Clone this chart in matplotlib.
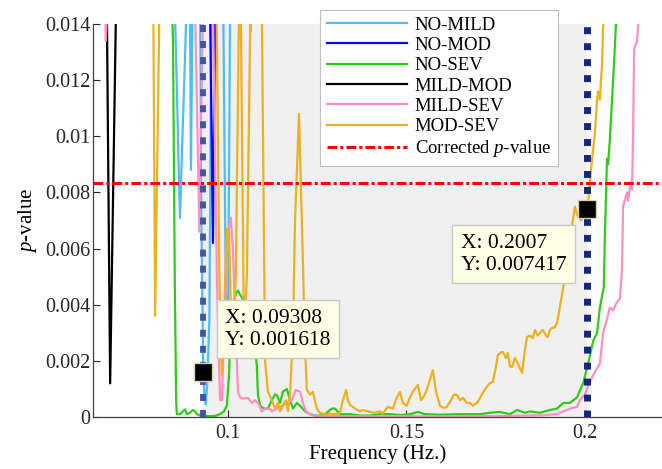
import matplotlib
matplotlib.use('Agg')
import matplotlib.pyplot as plt

# --- veriler ---
no_mild_f = [0.0622, 0.08515, 0.08655, 0.08838, 0.08936, 0.08964, 0.09006, 0.0922, 0.0926, 0.0929,
             0.09308, 0.0934, 0.0938, 0.0942, 0.0948, 0.0954, 0.0987, 0.0994, 0.1000, 0.1006, 0.2216]
no_mild_p = [0.03, 0.0145, 0.00709, 0.0145, 0.0145, 0.0088, 0.0145, 0.0145, 0.0065, 0.0035,
             0.001618, 0.0008, 0.00045, 0.0012, 0.0035, 0.0145, 0.0145, 0.0045, 0.0025, 0.0145, 0.03]

no_mod_f = [0.0622, 0.0950, 0.0958, 0.0964, 0.2216]
no_mod_p = [0.03, 0.0145, 0.0062, 0.0145, 0.03]

no_sev_f = [0.0622, 0.0843, 0.0846, 0.0851, 0.0855, 0.0857, 0.0866, 0.0874, 0.0880, 0.0885,
            0.0894, 0.0902, 0.0908, 0.0913, 0.0922, 0.0936, 0.0950, 0.0964, 0.0978, 0.0989,
            0.0997, 0.1003, 0.1008, 0.1022, 0.1028, 0.1050, 0.1073, 0.1081, 0.1084, 0.1090,
            0.1101, 0.1112, 0.1123, 0.1132, 0.1137, 0.1146, 0.1154, 0.1165, 0.1174, 0.1182,
            0.1193, 0.1202, 0.1216, 0.1230, 0.1244, 0.1258, 0.1272, 0.1291, 0.1300, 0.1314,
            0.1342, 0.1370, 0.1398, 0.1426, 0.1454, 0.1482, 0.1510, 0.1532, 0.1552, 0.1594,
            0.1650, 0.1706, 0.1734, 0.1762, 0.1790, 0.1810, 0.1832, 0.1846, 0.1874, 0.1902,
            0.1922, 0.1939, 0.1958, 0.1978, 0.1995, 0.2009, 0.2023, 0.2034, 0.2042, 0.2051,
            0.2053, 0.2056, 0.2062, 0.2065, 0.2070, 0.2076, 0.2082, 0.2087, 0.2090, 0.2216]
no_sev_p = [0.03, 0.0145, 0.0135, 0.005, 0.0005, 0.0001, 0.0001, 0.0002, 0.00027, 0.0001,
            0.00015, 0.00025, 0.0002, 0.0001, 0.00005, 0.00004, 0.00003, 0.00004, 0.0001, 0.0002,
            0.0004, 0.0015, 0.0035, 0.0044, 0.0045, 0.0040, 0.0030, 0.0018, 0.0008, 0.0004,
            0.0003, 0.0003, 0.0006, 0.0008, 0.00078, 0.0005, 0.0009, 0.001, 0.0006, 0.0003,
            0.0005, 0.0004, 0.0002, 0.0001, 0.00005, 0.00005, 0.0001, 0.0003, 0.0003, 0.0001,
            0.0001, 0.00005, 0.00005, 0.0001, 0.0001, 0.00007, 0.0001, 0.00018, 0.0001, 0.00008,
            0.0001, 0.0001, 0.00015, 0.00018, 0.0001, 0.00025, 0.00015, 0.0002, 0.00015, 0.00025,
            0.0003, 0.0005, 0.0005, 0.0007, 0.0012, 0.0019, 0.0027, 0.003, 0.0039, 0.0045,
            0.0046, 0.0065, 0.0092, 0.0090, 0.0099, 0.0113, 0.0127, 0.014, 0.0145, 0.03]

mild_mod_f = [0.0622, 0.0661, 0.0670, 0.0686, 0.2216]
mild_mod_p = [0.03, 0.0142, 0.0012, 0.0142, 0.03]

mild_sev_f = [0.0622, 0.0656, 0.0658, 0.0661, 0.0908, 0.0920, 0.0930, 0.0958, 0.0969, 0.0978,
              0.0983, 0.0989, 0.1000, 0.1008, 0.1014, 0.1022, 0.1028, 0.1034, 0.1042, 0.1056,
              0.1067, 0.1076, 0.1084, 0.1095, 0.1106, 0.1118, 0.1123, 0.1137, 0.1151, 0.1165,
              0.1179, 0.1190, 0.1202, 0.1210, 0.1219, 0.1230, 0.1244, 0.1300, 0.1400, 0.1500,
              0.1600, 0.1700, 0.1800, 0.1880, 0.1922, 0.1939, 0.1958, 0.1978, 0.1986, 0.2000,
              0.2009, 0.2020, 0.2028, 0.2042, 0.2051, 0.2062, 0.2070, 0.2079, 0.2090, 0.2098,
              0.2104, 0.2107, 0.2118, 0.2121, 0.2126, 0.2132, 0.2135, 0.2138, 0.2146, 0.2152, 0.2216]
mild_sev_p = [0.03, 0.0145, 0.0134, 0.0145, 0.0145, 0.0066, 0.0145, 0.0145, 0.005, 0.0006,
              0.0006, 0.003, 0.0065, 0.0071, 0.0060, 0.003, 0.0009, 0.0007, 0.00065, 0.00068,
              0.0005, 0.0006, 0.0005, 0.0002, 0.0003, 0.0003, 0.0002, 0.0003, 0.0004, 0.0005,
              0.0006, 0.00096, 0.0009, 0.0005, 0.0002, 0.0001, 0.00004, 0.00003, 0.00002, 0.00003,
              0.00002, 0.00003, 0.00004, 0.00006, 0.0001, 0.0002, 0.0003, 0.00036, 0.0006, 0.0008,
              0.0011, 0.0014, 0.0016, 0.0019, 0.0030, 0.0035, 0.0039, 0.0038, 0.0041, 0.0042,
              0.0053, 0.0075, 0.0080, 0.0077, 0.0082, 0.0081, 0.0101, 0.0131, 0.0134, 0.0145, 0.03]

mod_sev_f = [0.0622, 0.0791, 0.0796, 0.0808, 0.0968, 0.0976, 0.0983, 0.0990, 0.0997, 0.1003,
             0.1008, 0.1014, 0.1022, 0.1031, 0.1036, 0.1045, 0.1053, 0.1063, 0.1064, 0.1066,
             0.1095, 0.1104, 0.1112, 0.1123, 0.1132, 0.1140, 0.1146, 0.1154, 0.1162, 0.1168,
             0.1174, 0.1182, 0.1188, 0.1199, 0.1207, 0.1216, 0.1221, 0.1230, 0.1238, 0.1249,
             0.1258, 0.1272, 0.1286, 0.1300, 0.1314, 0.1322, 0.1331, 0.1336, 0.1342, 0.1356,
             0.1370, 0.1378, 0.1398, 0.1412, 0.1426, 0.1434, 0.1448, 0.1462, 0.1473, 0.1482,
             0.1490, 0.1501, 0.1510, 0.1518, 0.1532, 0.1541, 0.1546, 0.1555, 0.1563, 0.1574,
             0.1583, 0.1594, 0.1605, 0.1613, 0.1625, 0.1633, 0.1642, 0.1650, 0.1658, 0.1670,
             0.1678, 0.1686, 0.1700, 0.1711, 0.1725, 0.1734, 0.1742, 0.1751, 0.1756, 0.1765,
             0.1770, 0.1779, 0.1784, 0.1790, 0.1796, 0.1804, 0.1812, 0.1824, 0.1832, 0.1838,
             0.1846, 0.1854, 0.1860, 0.1868, 0.1874, 0.1882, 0.1891, 0.1896, 0.1902, 0.1908,
             0.1916, 0.1922, 0.1930, 0.1939, 0.1950, 0.1964, 0.1972, 0.1978, 0.1989, 0.2007,
             0.2014, 0.2020, 0.2028, 0.2034, 0.2037, 0.2042, 0.2045, 0.2048, 0.2051, 0.2053, 0.2216]
mod_sev_p = [0.03, 0.0145, 0.0036, 0.0145, 0.0145, 0.005, 0.0015, 0.004, 0.0067, 0.0066,
             0.004, 0.003, 0.005, 0.0145, 0.0145, 0.0028, 0.005, 0.0145, 0.01375, 0.0145,
             0.0145, 0.0020, 0.0009, 0.0006, 0.0003, 0.0005, 0.0002, 0.0004, 0.0006, 0.0002,
             0.0008, 0.003, 0.007, 0.0108, 0.007, 0.0025, 0.00096, 0.0008, 0.00089, 0.0003,
             0.00014, 0.0001, 0.00012, 0.0001, 0.00015, 0.0006, 0.00096, 0.0006, 0.00043, 0.0003,
             0.0002, 0.00025, 0.00018, 0.00015, 0.0002, 0.00012, 0.00036, 0.0003, 0.0007, 0.00089,
             0.0005, 0.0004, 0.0007, 0.0009, 0.00114, 0.0006, 0.00068, 0.0009, 0.0012, 0.00167,
             0.0009, 0.0004, 0.00032, 0.00036, 0.0006, 0.0008, 0.00078, 0.0006, 0.00068, 0.0005,
             0.0005, 0.0004, 0.00053, 0.0008, 0.00107, 0.0012, 0.00125, 0.0018, 0.0022, 0.0023,
             0.00232, 0.0021, 0.00228, 0.0018, 0.00178, 0.0021, 0.0019, 0.00157, 0.0024, 0.00285,
             0.0029, 0.0028, 0.0031, 0.0029, 0.00299, 0.0031, 0.0029, 0.00285, 0.0031, 0.00317,
             0.0032, 0.00335, 0.00392, 0.0046, 0.0056, 0.0068, 0.0075, 0.0072, 0.0070, 0.007417,
             0.0083, 0.0092, 0.0101, 0.0113, 0.0116, 0.0113, 0.0120, 0.0125, 0.0139, 0.0145, 0.03]

corrected_p = 0.05 / 6
tip_f = [0.09308, 0.2007]
tip_p = [0.001618, 0.007417]

series_names = ['NO-MILD', 'NO-MOD', 'NO-SEV', 'MILD-MOD', 'MILD-SEV', 'MOD-SEV']
series_colors = ['#4dbeee', '#0000ff', '#2ecc18', '#000000', '#ff8fc4', '#edb120']
series_f = [no_mild_f, no_mod_f, no_sev_f, mild_mod_f, mild_sev_f, mod_sev_f]
series_p = [no_mild_p, no_mod_p, no_sev_p, mild_mod_p, mild_sev_p, mod_sev_p]

y_ticks = [0, 0.002, 0.004, 0.006, 0.008, 0.01, 0.012, 0.014]
y_tick_labels = ['0', '0.002', '0.004', '0.006', '0.008', '0.01', '0.012', '0.014']
x_ticks = [0.1, 0.15, 0.2]
x_tick_labels = ['0.1', '0.15', '0.2']

# --- yazı tipi ---
plt.rcParams['font.family'] = ['Liberation Serif', 'DejaVu Serif']
plt.rcParams['mathtext.fontset'] = 'custom'
plt.rcParams['mathtext.it'] = 'Liberation Serif:italic'
plt.rcParams['mathtext.rm'] = 'Liberation Serif'

fig = plt.figure(figsize=(6.62, 4.69), dpi=100)
ax = fig.add_axes([0.1405, 0.1109, 0.8595, 0.838])

# anlamlı bölge gölgesi
ax.axvspan(tip_f[0], tip_f[1], color='#f0f0f0', lw=0, zorder=0)

for f, p, name, col in zip(series_f, series_p, series_names, series_colors):
    ax.plot(f, p, color=col, lw=1.6, label=name, zorder=2)

ax.axhline(corrected_p, color='#ff0000', lw=2.2, linestyle=(0, (3.2, 1.0, 1.0, 1.0)),
           label='Corrected $\\mathit{p}$-value', zorder=3)

# dikey kesikli çizgiler
ax.axvline(tip_f[0], color='#4454a4', lw=4.2, linestyle=(0, (1.2, 1.55)), zorder=3.5)
ax.axvline(tip_f[1], color='#16267e', lw=5, linestyle=(0, (1.0, 1.3)), zorder=3.5)

# veri ipuçları
ax.plot(tip_f, tip_p, 's', color='black', markersize=13, markeredgecolor='#d9d2a0',
        markeredgewidth=1, zorder=5)
box = dict(boxstyle='square,pad=0.4', facecolor='#ffffe6', edgecolor='#c8c8c8', lw=1)
ax.annotate(f'X: {tip_f[0]:g}\nY: {tip_p[0]:g}', xy=(tip_f[0], tip_p[0]),
            xytext=(22, 22), textcoords='offset pixels', ha='left', va='bottom',
            fontsize=15.5, bbox=box, zorder=6)
ax.annotate(f'X: {tip_f[1]:g}\nY: {tip_p[1]:g}', xy=(tip_f[1], tip_p[1]),
            xytext=(-21, -25), textcoords='offset pixels', ha='right', va='top',
            multialignment='left', fontsize=15.5, bbox=box, zorder=6)

ax.set_xlim(0.0622, 0.2216)
ax.set_ylim(0, 0.014)
ax.set_xticks(x_ticks)
ax.set_xticklabels(x_tick_labels)
ax.set_yticks(y_ticks)
ax.set_yticklabels(y_tick_labels)
ax.tick_params(direction='in', length=5, width=0.8, labelsize=14.5, colors='#262626')
ax.tick_params(axis='x', pad=5)
ax.tick_params(axis='y', pad=2)
for s in ['top', 'right']:
    ax.spines[s].set_visible(False)
for s in ['left', 'bottom']:
    ax.spines[s].set_color('#404040')
    ax.spines[s].set_linewidth(0.9)

ax.set_ylabel('$\\mathit{p}$-value', fontsize=15, labelpad=4)
ax.set_xlabel('Frequency (Hz.)', fontsize=15, labelpad=1)

leg = ax.legend(loc='upper left', bbox_to_anchor=(0.4834, 0.9787), bbox_transform=fig.transFigure,
                borderaxespad=0, fontsize=13.5, handlelength=4.3, handletextpad=0.4,
                labelspacing=0.17, borderpad=0.35, fancybox=False, framealpha=1,
                edgecolor='#bfbfbf')
leg.get_frame().set_linewidth(0.8)
leg.set_zorder(10)

fig.savefig('out.png', dpi=100)
